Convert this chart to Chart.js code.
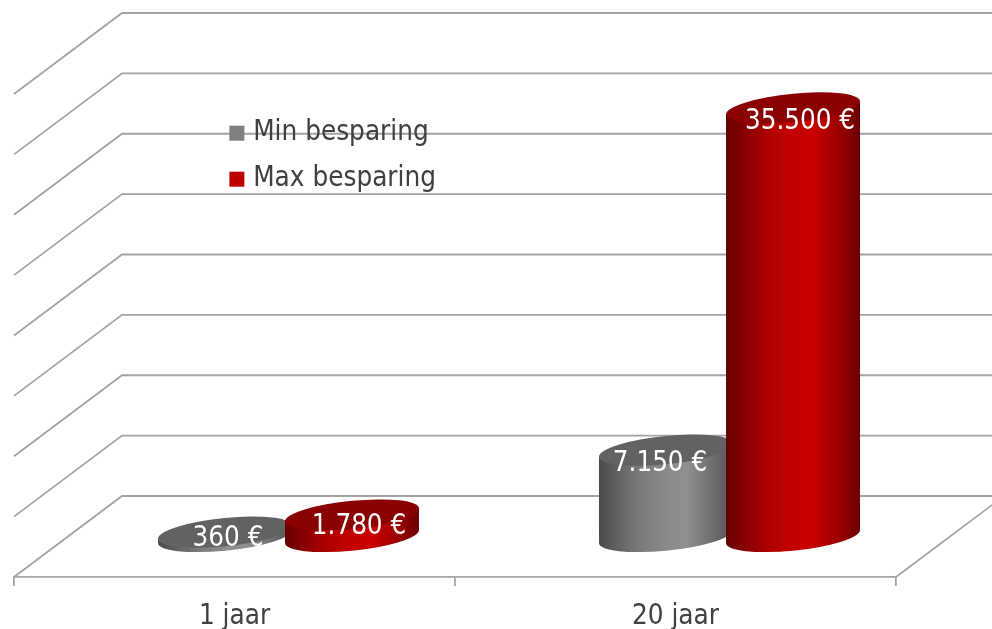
<!DOCTYPE html>
<html>
<head>
<meta charset="utf-8">
<script src="https://cdn.jsdelivr.net/npm/chart.js@4"></script>
<style>
  html, body { margin: 0; padding: 0; background: #fff; }
  canvas { display: block; }
</style>
</head>
<body>
<canvas id="savingsChart" width="992" height="629"></canvas>
<script>
const categories = ['1 jaar', '20 jaar'];
const minSavings = [360, 7150];
const maxSavings = [1780, 35500];
const minLabels = ['360 €', '7.150 €'];
const maxLabels = ['1.780 €', '35.500 €'];
const axisMax = 40000;
const axisStep = 5000;

const fontName = '"DejaVu Sans Condensed", "DejaVu Sans", sans-serif';
const gridColor = '#a4a4a4';
const textColor = '#404040';

// how far the back wall sits behind the front plane
const depthX = 108;
const depthY = 81;
const capSlope = 6.5;
const capHalfHeight = 14.2;

const gradientStops = [0, 0.15, 0.3, 0.5, 0.65, 0.85, 1];
const looks = [
  {
    cap: '#626262',
    stops: ['#4a4a4a', '#646464', '#7a7a7a', '#8a8a8a', '#909090', '#6e6e6e', '#555555'],
    labels: minLabels, nudgeX: [3, -6], nudgeY: [7, 14]
  },
  {
    cap: '#8b0000',
    stops: ['#660000', '#8a0000', '#ac0000', '#c40000', '#c80000', '#9a0000', '#6a0000'],
    labels: maxLabels, nudgeX: [7, 7], nudgeY: [11.5, 14]
  }
];

const depthGrid = {
  id: 'depthGrid',
  afterLayout(chart) {
    // legend floats over the wall, like the original
    const legend = chart.legend;
    legend.left = 216;
    legend.top = 101;
  },
  beforeDraw(chart) {
    const { ctx, chartArea } = chart;
    const y = chart.scales.y;
    ctx.save();
    ctx.strokeStyle = gridColor;
    ctx.lineWidth = 1.8;
    y.ticks.forEach((tick, i) => {
      const py = y.getPixelForTick(i);
      ctx.beginPath();
      ctx.moveTo(chartArea.left, py);
      ctx.lineTo(chartArea.left + depthX, py - depthY);
      ctx.lineTo(chartArea.right + depthX, py - depthY);
      ctx.stroke();
    });
    ctx.beginPath();
    ctx.moveTo(chartArea.right, chartArea.bottom);
    ctx.lineTo(chartArea.right + depthX, chartArea.bottom - depthY);
    ctx.stroke();
    ctx.restore();
  }
};

function drawCylinder(ctx, bar, look) {
  const a = bar.width / 2;
  const cx = bar.x + depthX / 2;
  const top = bar.y - depthY / 2;
  const h = bar.base - bar.y;
  const grad = ctx.createLinearGradient(-a, 0, a, 0);
  gradientStops.forEach((s, i) => grad.addColorStop(s, look.stops[i]));

  ctx.save();
  ctx.transform(1, -capSlope / a, 0, 1, cx, top);
  ctx.fillStyle = grad;
  ctx.beginPath();
  ctx.moveTo(-a, 0);
  ctx.lineTo(-a, h);
  ctx.ellipse(0, h, a, capHalfHeight, 0, Math.PI, 0, true);
  ctx.lineTo(a, 0);
  ctx.closePath();
  ctx.fill();
  ctx.fillStyle = look.cap;
  ctx.beginPath();
  ctx.ellipse(0, 0, a, capHalfHeight, 0, 0, Math.PI * 2);
  ctx.fill();
  ctx.restore();
}

const cylinders = {
  id: 'cylinders',
  beforeDatasetDraw() {
    return false;
  },
  afterDatasetsDraw(chart) {
    const { ctx } = chart;
    looks.forEach((look, d) => {
      chart.getDatasetMeta(d).data.forEach(bar => drawCylinder(ctx, bar, look));
    });
    ctx.save();
    ctx.fillStyle = '#ffffff';
    ctx.font = '27.5px ' + fontName;
    ctx.textAlign = 'center';
    ctx.textBaseline = 'middle';
    looks.forEach((look, d) => {
      chart.getDatasetMeta(d).data.forEach((bar, i) => {
        ctx.fillText(look.labels[i],
          bar.x + depthX / 2 + look.nudgeX[i],
          bar.y - depthY / 2 + look.nudgeY[i]);
      });
    });
    ctx.restore();
  }
};

new Chart(document.getElementById('savingsChart').getContext('2d'), {
  type: 'bar',
  data: {
    labels: categories,
    datasets: [
      { label: 'Min besparing', data: minSavings, backgroundColor: '#808080', borderColor: '#808080', borderWidth: 10 },
      { label: 'Max besparing', data: maxSavings, backgroundColor: '#c00000', borderColor: '#c00000', borderWidth: 10 }
    ]
  },
  plugins: [depthGrid, cylinders],
  options: {
    responsive: false,
    animation: false,
    events: [],
    categoryPercentage: 0.576,
    barPercentage: 1.055,
    layout: { padding: { left: 14, right: 96, top: 94, bottom: 0 } },
    plugins: {
      tooltip: { enabled: false },
      legend: {
        position: 'chartArea',
        align: 'start',
        labels: {
          color: textColor,
          font: { size: 27.6, family: fontName },
          boxWidth: 5,
          boxHeight: 5,
          padding: 18.4
        }
      }
    },
    scales: {
      x: {
        afterFit(scale) { scale.height = 52; },
        border: { color: gridColor, width: 1.8 },
        grid: { drawOnChartArea: false, color: gridColor, lineWidth: 1.8, tickLength: 9 },
        ticks: { color: textColor, font: { size: 27.6, family: fontName }, padding: 14, maxRotation: 0 }
      },
      y: {
        display: false,
        min: 0,
        max: axisMax,
        ticks: { stepSize: axisStep }
      }
    }
  }
});
</script>
</body>
</html>
